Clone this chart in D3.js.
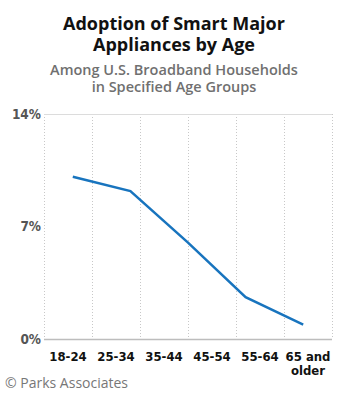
<!DOCTYPE html>
<html>
<head>
<meta charset="utf-8">
<script src="https://cdn.jsdelivr.net/npm/d3@7"></script>
<style>
  body { margin: 0; background: #fff; }
  .cond { font-family: 'DejaVu Sans', sans-serif; font-stretch: condensed; }
</style>
</head>
<body>
<svg id="chart" width="350" height="400"></svg>
<script>
// Chart data
var categories = ["18-24", "25-34", "35-44", "45-54", "55-64", "65 and older"];
var lineValues = [10.1, 9.2, 6.0, 2.6, 0.9];
var yTicks = [0, 7, 14];

var titleLines = ["Adoption of Smart Major", "Appliances by Age"];
var subtitleLines = ["Among U.S. Broadband Households", "in Specified Age Groups"];
var sourceText = "\u00a9 Parks Associates";

var margin = {left: 44, right: 18, top: 114, bottom: 61};
var svg = d3.select('#chart');
var width = +svg.attr('width');
var height = +svg.attr('height');
var plotW = width - margin.left - margin.right;
var plotH = height - margin.top - margin.bottom;

var sans = "'Open Sans', 'Noto Sans', sans-serif";

// titles
svg.append('text')
    .attr('text-anchor', 'middle')
    .attr('font-family', sans)
    .attr('font-weight', 'bold')
    .attr('font-size', 18)
    .attr('fill', '#111')
    .selectAll('tspan')
    .data(titleLines)
    .enter()
  .append('tspan')
    .attr('x', 174)
    .attr('y', function(d, i) { return 30 + i * 21; })
    .text(function(d) { return d; });

svg.append('text')
    .attr('text-anchor', 'middle')
    .attr('font-family', sans)
    .attr('font-weight', 600)
    .attr('font-size', 14.5)
    .attr('fill', '#707070')
    .selectAll('tspan')
    .data(subtitleLines)
    .enter()
  .append('tspan')
    .attr('x', 174)
    .attr('y', function(d, i) { return 75 + i * 17; })
    .text(function(d) { return d; });

var g = svg.append('g')
    .attr('transform', 'translate(' + margin.left + ',' + margin.top + ')');

var x = d3.scaleBand()
    .domain(categories)
    .range([0, plotW]);

// the line uses its own evenly spaced positions across the plot
var xLine = d3.scaleBand()
    .domain(d3.range(lineValues.length))
    .range([0, plotW]);

var y = d3.scaleLinear()
    .domain([0, 14])
    .range([plotH, 0]);

// vertical dotted gridlines at category boundaries
var bounds = categories.map(function(c) { return x(c); }).concat([plotW]);
g.selectAll('line.vgrid')
    .data(bounds)
    .enter()
  .append('line')
    .attr('class', 'vgrid')
    .attr('x1', function(d) { return d + 0.5; })
    .attr('x2', function(d) { return d + 0.5; })
    .attr('y1', 0)
    .attr('y2', plotH)
    .style('stroke', '#c8c8c8')
    .style('stroke-width', 1)
    .style('stroke-dasharray', '1,2');

// top gridline and baseline
g.append('line')
    .attr('x1', 0).attr('x2', plotW)
    .attr('y1', y(14) + 0.5).attr('y2', y(14) + 0.5)
    .style('stroke', '#dcdcdc');
g.append('line')
    .attr('x1', 0).attr('x2', plotW)
    .attr('y1', y(0) + 0.5).attr('y2', y(0) + 0.5)
    .style('stroke', '#bdbdbd')
    .style('stroke-width', 1.5);

// y axis labels
var yAxis = d3.axisLeft(y)
    .tickValues(yTicks)
    .tickSize(0)
    .tickPadding(3)
    .tickFormat(function(d) { return d + '%'; });
var yG = g.append('g').call(yAxis);
yG.attr('font-family', null);
yG.select('.domain').remove();
yG.selectAll('text')
    .attr('class', 'cond')
    .attr('font-weight', 'bold')
    .attr('font-size', 13.5)
    .attr('fill', '#555');

// x axis labels
var xAxis = d3.axisBottom(x).tickSize(0).tickPadding(0);
var xG = g.append('g')
    .attr('transform', 'translate(0,' + plotH + ')')
    .call(xAxis);
xG.attr('font-family', null);
xG.select('.domain').remove();
xG.selectAll('text')
    .attr('class', 'cond')
    .attr('font-weight', 'bold')
    .attr('font-size', 13)
    .attr('fill', '#111')
    .attr('y', 0)
    .attr('dy', 0)
    .each(function(d) {
        var t = d3.select(this);
        var words = d === '65 and older' ? ['65 and', 'older'] : [d];
        t.text(null);
        words.forEach(function(w, i) {
            t.append('tspan')
                .attr('x', 0)
                .attr('y', 22 + i * 14)
                .text(w);
        });
    });

// data line
var line = d3.line()
    .x(function(d, i) { return xLine(i) + xLine.bandwidth() / 2; })
    .y(function(d) { return y(d); });

g.append('path')
    .datum(lineValues)
    .attr('d', line)
    .style('fill', 'none')
    .style('stroke', '#1874be')
    .style('stroke-width', 2.5);

// source
svg.append('text')
    .attr('x', 5)
    .attr('y', 388)
    .attr('font-family', sans)
    .attr('font-size', 14)
    .attr('fill', '#777')
    .text(sourceText);
</script>
</body>
</html>
